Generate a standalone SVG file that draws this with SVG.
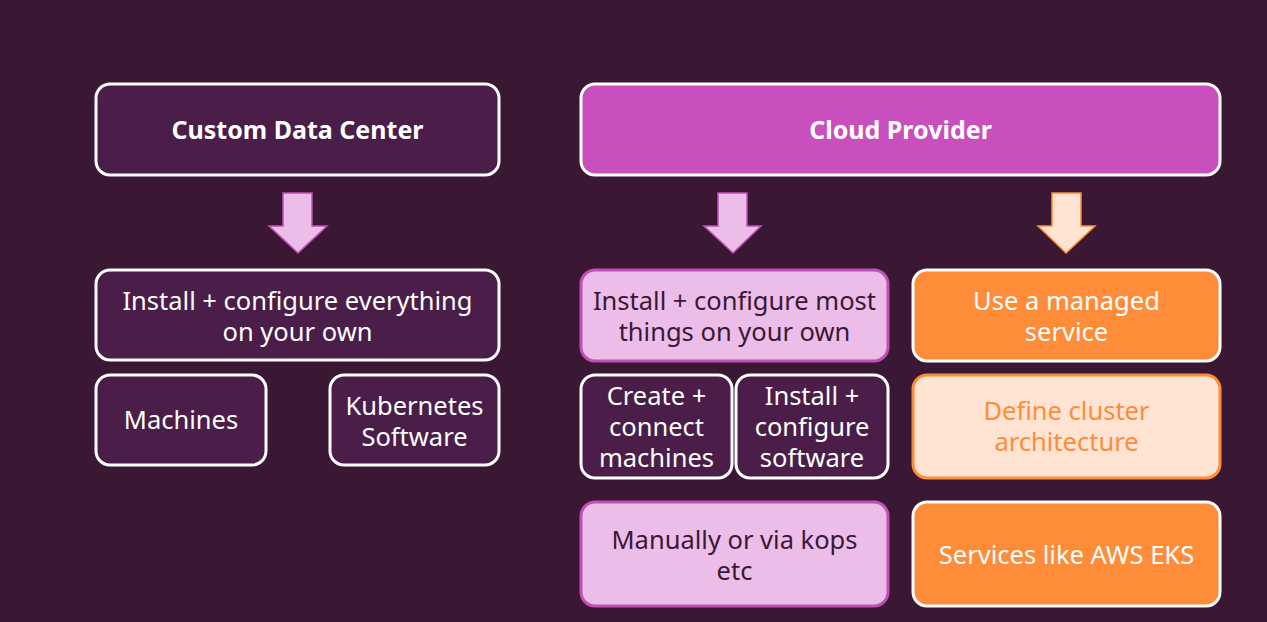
<svg xmlns="http://www.w3.org/2000/svg" width="1267" height="622" viewBox="0 0 1267 622">
<style>
text{font-family:"Noto Sans","Liberation Sans",sans-serif;font-size:25.5px;text-anchor:middle}
.t{font-weight:bold;fill:#ffffff;font-size:25px}
.w{fill:#ffffff}
.d{fill:#3a1834}
.o{fill:#ff8c38}
.dark{fill:#4a1e48;stroke:#ffffff;stroke-width:3}
.cloud{fill:#c94fbf;stroke:#ffffff;stroke-width:3}
.pink{fill:#ecbde8;stroke:#c04fb8;stroke-width:3}
.orange{fill:#ff8c38;stroke:#ffffff;stroke-width:3}
.lorange{fill:#ffe3d3;stroke:#ff8c38;stroke-width:3}
.ap{fill:#ecbde8;stroke:#c04fb8;stroke-width:1.5}
.ao{fill:#ffe3d3;stroke:#ff8c38;stroke-width:1.5}
</style>
<rect width="1267" height="622" fill="#3a1834"/>
<g id="connectors">
<path class="ap" d="M283,193 H312 V226 H327 L298,253 L269,226 H283 Z"/>
<path class="ap" d="M718,193 H747 V226 H761 L733,253 L704,226 H718 Z"/>
<path class="ao" d="M1052,193 H1081 V226 H1095 L1066,253 L1038,226 H1052 Z"/>
</g>
<g id="custom-data-center"><rect class="dark" x="96" y="84" width="403" height="91" rx="14"/><text class="t" x="297.5" y="139">Custom Data Center</text></g>
<g id="cloud-provider"><rect class="cloud" x="581" y="84" width="639" height="91" rx="14"/><text class="t" x="900.5" y="139">Cloud Provider</text></g>
<g id="install-everything"><rect class="dark" x="96" y="270" width="403" height="90" rx="14"/><text class="w" x="297.5" y="310">Install + configure everything</text><text class="w" x="297.5" y="341">on your own</text></g>
<g id="machines"><rect class="dark" x="96" y="375" width="170" height="90" rx="14"/><text class="w" x="181" y="429">Machines</text></g>
<g id="kubernetes-software"><rect class="dark" x="330" y="375" width="169" height="90" rx="14"/><text class="w" x="414.5" y="414.5">Kubernetes</text><text class="w" x="414.5" y="445.5">Software</text></g>
<g id="install-most"><rect class="pink" x="581" y="270" width="307" height="91" rx="14"/><text class="d" x="734.5" y="310">Install + configure most</text><text class="d" x="734.5" y="341">things on your own</text></g>
<g id="managed-service"><rect class="orange" x="913" y="270" width="307" height="91" rx="14"/><text class="w" x="1066.5" y="310">Use a managed</text><text class="w" x="1066.5" y="341">service</text></g>
<g id="create-connect"><rect class="dark" x="581" y="375" width="151" height="103" rx="14"/><text class="w" x="656.5" y="404.5">Create +</text><text class="w" x="656.5" y="435.5">connect</text><text class="w" x="656.5" y="466.5">machines</text></g>
<g id="install-software"><rect class="dark" x="736" y="375" width="152" height="103" rx="14"/><text class="w" x="812" y="404.5">Install +</text><text class="w" x="812" y="435.5">configure</text><text class="w" x="812" y="466.5">software</text></g>
<g id="define-cluster"><rect class="lorange" x="913" y="375" width="307" height="103" rx="14"/><text class="o" x="1066.5" y="420">Define cluster</text><text class="o" x="1066.5" y="451">architecture</text></g>
<g id="manually"><rect class="pink" x="581" y="502" width="307" height="104" rx="14"/><text class="d" x="734.5" y="549">Manually or via kops</text><text class="d" x="734.5" y="580">etc</text></g>
<g id="services-eks"><rect class="orange" x="913" y="502" width="307" height="104" rx="14"/><text class="w" x="1066.5" y="564">Services like AWS EKS</text></g>
</svg>
